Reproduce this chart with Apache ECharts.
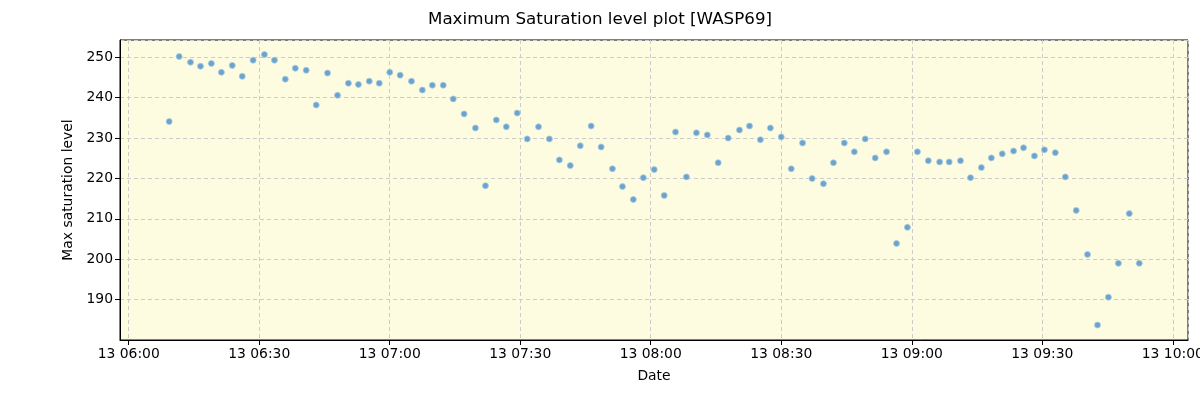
<!DOCTYPE html>
<html>
<head>
<meta charset="utf-8">
<script src="https://cdn.jsdelivr.net/npm/echarts@6/dist/echarts.min.js"></script>
<style>
html,body{margin:0;padding:0;background:#fff;}
#chart{width:1200px;height:400px;}
</style>
</head>
<body>
<div id="chart"></div>
<script>
const DAY = '2023-01-13 ';
const times = [
'06:09:18','06:11:36','06:14:12','06:16:30','06:19:00','06:21:18','06:23:48','06:26:06','06:28:36','06:31:12',
'06:33:30','06:36:00','06:38:18','06:40:48','06:43:06','06:45:42','06:48:00','06:50:30','06:52:48','06:55:18',
'06:57:36','07:00:00','07:02:24','07:05:00','07:07:30','07:09:48','07:12:18','07:14:36','07:17:06','07:19:42',
'07:22:00','07:24:30','07:26:48','07:29:18','07:31:36','07:34:12','07:36:42','07:39:00','07:41:30','07:43:48',
'07:46:18','07:48:36','07:51:12','07:53:30','07:56:00','07:58:18','08:00:48','08:03:06','08:05:42','08:08:12',
'08:10:30','08:13:00','08:15:30','08:17:48','08:20:24','08:22:42','08:25:12','08:27:30','08:30:00','08:32:18',
'08:34:54','08:37:06','08:39:42','08:42:00','08:44:30','08:46:48','08:49:18','08:51:36','08:54:12','08:56:30',
'08:59:00','09:01:18','09:03:48','09:06:24','09:08:36','09:11:12','09:13:30','09:16:00','09:18:18','09:20:48',
'09:23:24','09:25:42','09:28:12','09:30:30','09:33:00','09:35:18','09:37:48','09:40:24','09:42:42','09:45:12',
'09:47:30','09:50:00','09:52:18'
];
const saturation = [
234.1,250.2,248.8,247.8,248.5,246.3,248.0,245.3,249.3,250.7,
249.3,244.6,247.3,246.8,238.2,246.1,240.6,243.6,243.3,244.1,
243.6,246.3,245.6,244.1,241.9,243.1,243.1,239.7,236.0,232.5,
218.2,234.5,232.8,236.2,229.8,232.8,229.8,224.6,223.2,228.1,
233.0,227.8,222.4,218.0,214.8,220.2,222.2,215.8,231.5,220.4,
231.3,230.8,223.9,230.0,232.0,233.0,229.6,232.5,230.3,222.4,
228.8,220.0,218.7,223.9,228.8,226.6,229.8,225.1,226.6,203.9,
207.9,226.6,224.4,224.1,224.1,224.4,220.2,222.7,225.1,226.1,
226.8,227.6,225.6,227.1,226.4,220.4,212.1,201.2,183.7,190.6,
199.0,211.3,199.0
];
const titleText = 'Maximum Saturation level plot [WASP69]';
const xName = 'Date';
const yName = 'Max saturation level';
const xMin = DAY + '05:58:00';
const xMax = DAY + '10:03:30';
const yMin = 180, yMax = 254.3, yStep = 10;

const points = times.map((t, i) => [DAY + t, saturation[i]]);
const FONT = 'DejaVu Sans';

const chart = echarts.init(document.getElementById('chart'), null, {renderer: 'canvas'});
chart.setOption({
  animation: false,
  backgroundColor: '#ffffff',
  title: {
    text: titleText, left: 'center', top: 6,
    textStyle: {fontFamily: FONT, fontSize: 16.7, fontWeight: 'normal', color: '#000'}
  },
  grid: {
    left: 120, right: 12, top: 40, bottom: 60,
    containLabel: false, outerBoundsMode: 'none',
    show: true, backgroundColor: '#fdfbe0', borderColor: '#000', borderWidth: 1
  },
  xAxis: {
    type: 'time', min: xMin, max: xMax,
    minInterval: 31 * 60 * 1000, maxInterval: 31 * 60 * 1000,
    name: xName, nameLocation: 'middle', nameGap: 29.5,
    nameTextStyle: {fontFamily: FONT, fontSize: 13.9, color: '#000'},
    axisLine: {show: true, onZero: false, lineStyle: {color: '#000', width: 1}},
    axisTick: {show: true, length: 5, lineStyle: {color: '#000'}},
    axisLabel: {
      fontFamily: FONT, fontSize: 13.9, color: '#000', margin: 7,
      showMinLabel: false, showMaxLabel: false, hideOverlap: false,
      formatter: '{dd} {HH}:{mm}'
    },
    splitLine: {show: true, lineStyle: {color: '#cccccc', type: [4, 3], width: 1}}
  },
  yAxis: {
    type: 'value', min: yMin, max: yMax, interval: yStep,
    name: yName, nameLocation: 'middle', nameGap: 41, nameRotate: 90,
    nameTextStyle: {fontFamily: FONT, fontSize: 13.9, color: '#000'},
    axisLine: {show: true, lineStyle: {color: '#000', width: 1}},
    axisTick: {show: true, length: 5, lineStyle: {color: '#000'}},
    axisLabel: {
      fontFamily: FONT, fontSize: 13.9, color: '#000', margin: 7,
      showMinLabel: false, showMaxLabel: false,
      formatter: v => (v % 10 === 0 && v > yMin) ? String(v) : ''
    },
    splitLine: {show: true, lineStyle: {color: '#cccccc', type: [4, 3], width: 1}}
  },
  series: [{
    type: 'scatter',
    data: points,
    symbol: 'circle',
    symbolSize: 6,
    itemStyle: {color: '#6aa3cc', borderColor: '#a9cbe2', borderWidth: 0.8, opacity: 1}
  }]
});
</script>
</body>
</html>
